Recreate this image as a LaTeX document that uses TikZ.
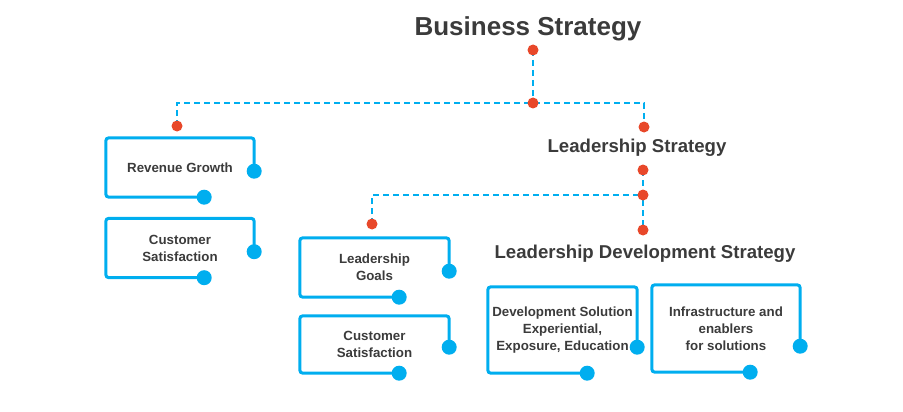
\documentclass[tikz,border=0pt]{standalone}
\usepackage{fontspec}
\setmainfont{Liberation Sans}
\usepackage{tikz}
\usepackage{xcolor}
\definecolor{lineblue}{HTML}{00AEEF}
\definecolor{dotred}{HTML}{E8482A}
\definecolor{inkgray}{HTML}{3B3B3B}

\begin{document}
\begin{tikzpicture}[x=1pt,y=-1pt,line cap=round,
  title/.style={font=\bfseries\fontsize{18.6}{22}\selectfont,text=inkgray,anchor=base,inner sep=0pt},
  boxtext/.style={font=\bfseries\fontsize{13.3}{17}\selectfont,text=inkgray,align=center,inner sep=0pt,
    minimum width=148pt,minimum height=59pt},
  boxline/.style={lineblue,line width=3pt,rounded corners=3pt},
  link/.style={lineblue,line width=2pt,dash pattern=on 6pt off 4pt,line cap=butt},
  knob/.style={fill=lineblue},
  dot/.style={fill=dotred}]
\useasboundingbox (0,0) rectangle (903,412);
% titles
\node[title,font=\bfseries\fontsize{26}{30}\selectfont] (bs) at (528,36) {Business Strategy};
\node[title] (ls) at (637,153) {Leadership Strategy};
\node[title] (lds) at (645,258) {Leadership Development Strategy};
% boxes
\node[boxtext] (rev) at (180,167.5) {Revenue Growth};
\node[boxtext] (csat1) at (180,248) {Customer\\Satisfaction};
\node[boxtext,minimum width=149pt] (goals) at (374.5,267.5) {Leadership\\Goals};
\node[boxtext,minimum width=149pt,minimum height=57pt] (csat2) at (374.5,344.5) {Customer\\Satisfaction};
\node[boxtext,minimum width=149pt,minimum height=86pt] (devsol) at (562.5,330) {Development Solution\\Experiential,\\Exposure, Education};
\node[boxtext,minimum height=87pt] (infra) at (726,328.5) {Infrastructure and\\enablers\\for solutions};
\foreach \b in {rev,csat1,goals,csat2,devsol,infra}{
  \draw[boxline] ([yshift=26pt]\b.south east) |- (\b.north west) |- ([xshift=-50pt]\b.south east);
  \fill[knob] ([yshift=26pt]\b.south east) circle (7.5pt);
  \fill[knob] ([xshift=-50pt]\b.south east) circle (7.5pt);
}
% joints
\coordinate (bsTop) at (533,50);
\coordinate (bsJoin) at (533,103);
\coordinate (revIn) at (177,126);
\coordinate (lsIn) at (644,127);
\coordinate (lsOut) at (643,170);
\coordinate (lsJoin) at (643,195);
\coordinate (ldsIn) at (643,230);
\coordinate (goalsIn) at (372,224);
\draw[link] (bsTop) -- (bsJoin);
\draw[link] (revIn) |- (bsJoin) -| (lsIn);
\draw[link] (lsOut) -- (ldsIn);
\draw[link] (goalsIn) |- (lsJoin);
\foreach \p in {bsTop,bsJoin,revIn,lsIn,lsOut,lsJoin,ldsIn,goalsIn}
  \fill[dot] (\p) circle (5.5pt);
\end{tikzpicture}
\end{document}
